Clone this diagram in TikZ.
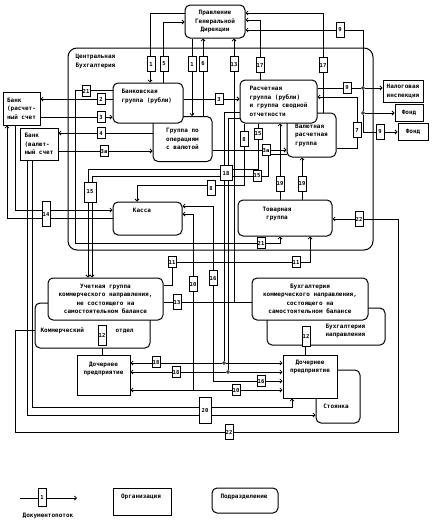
\documentclass[tikz,border=0pt]{standalone}
\usepackage{fontspec}
\newfontfamily\schemafont{DejaVu Sans Mono}
\usetikzlibrary{arrows.meta, positioning, backgrounds}

\tikzset{
  sfont/.style={font=\schemafont\bfseries\fontsize{6}{8.5}\selectfont},
  dept/.style={draw, line width=1pt, rounded corners=5pt, fill=white, sfont, inner sep=1pt},
  org/.style={draw, line width=1pt, fill=white, sfont, inner sep=1pt},
  num/.style={draw, line width=0.8pt, fill=white, font=\schemafont\bfseries\fontsize{5.5}{6}\selectfont, inner sep=0.5pt, minimum width=8pt, minimum height=11pt},
  tall/.style={minimum height=15pt},
  flow/.style={draw, line width=0.75pt, -{Straight Barb[length=2pt,width=4pt]}},
  dflow/.style={draw, line width=0.75pt, {Straight Barb[length=2pt,width=4pt]}-{Straight Barb[length=2pt,width=4pt]}},
  link/.style={draw, line width=0.75pt},
  jn/.style={draw, circle, fill=white, line width=0.6pt, inner sep=0pt, minimum size=2.8pt},
}

\begin{document}
\begin{tikzpicture}[x=1pt, y=-1pt]
  \useasboundingbox (0,0) rectangle (433,530);

  % Containers
  \node[dept, rounded corners=9pt, fill=none, minimum width=305pt, minimum height=202pt] (central) at (220.5,149) {};
  \node[sfont, align=left, anchor=north west] (centralt) at (72,51) {Центральная\\Бухгалтерия};
  \node[dept, minimum width=115pt, minimum height=45pt] (kommotd) at (92.5,325.5) {};
  \node[sfont, anchor=west] (kommotdt) at (37,331) {Коммерческий};
  \node[sfont, anchor=west] (otdelt) at (112,331) {отдел};
  \node[dept, minimum width=118pt, minimum height=37pt] (buhnapr) at (326,326.5) {};
  \node[sfont, align=left, anchor=west] (buhnaprt) at (322,331) {Бухгалтерия\\направления};
  \node[dept, minimum width=115pt, minimum height=42pt, align=center] (uchet) at (105.5,299) {Учетная группа\\коммерческого направления,\\не состоящего на\\самостоятельном балансе};
  \node[dept, minimum width=116pt, minimum height=42pt, align=center] (buhk) at (310,299) {Бухгалтерия\\коммерческого направления,\\состоящего на\\самостоятельном балансе};

  % Units
  \node[dept, minimum width=60pt, minimum height=33pt, align=center] (pravl) at (215,21.5) {Правление\\Генеральной\\Дирекции};
  \node[org, minimum width=37pt, minimum height=33pt, align=left] (bankr) at (21.5,108.5) {Банк\\(расчет-\\ный счет};
  \node[org, minimum width=38pt, minimum height=32pt, align=left] (bankv) at (39,144) {Банк\\(валют-\\ный счет};
  \node[dept, minimum width=59pt, minimum height=45pt, align=left] (valop) at (182.5,139) {Группа по\\операциям\\с валютой};
  \node[dept, minimum width=70pt, minimum height=40pt] (bankgr) at (148,103) {};
  \node[sfont, align=left, anchor=north west] (bankgrt) at (118,86) {Банковская\\группа (рубли)};
  \node[dept, minimum width=49pt, minimum height=44pt, align=left] (valut) at (311.5,135) {Валютная\\расчетная\\группа};
  \node[dept, minimum width=77pt, minimum height=43pt, align=left] (rasch) at (278.5,101.5) {Расчетная\\группа (рубли)\\и группа сводной\\отчетности};
  \node[org, minimum width=40pt, minimum height=22pt, align=center] (nalog) at (403,91) {Налоговая\\инспекция};
  \node[org, minimum width=28pt, minimum height=17pt] (fond1) at (409,112.5) {Фонд};
  \node[org, minimum width=30pt, minimum height=17pt] (fond2) at (413,131.5) {Фонд};
  \node[dept, minimum width=69pt, minimum height=33pt] (kassa) at (147.5,218.5) {};
  \node[sfont] (kassat) at (142,210) {Касса};
  \node[dept, minimum width=94pt, minimum height=36pt] (tovar) at (285,218) {};
  \node[sfont, align=center] (tovart) at (277,214) {Товарная\\группа};
  \node[org, minimum width=53pt, minimum height=40pt] (doch1) at (103.5,375) {};
  \node[sfont, align=center] (doch1t) at (103.5,369) {Дочернее\\предприятие};
  \node[dept, minimum width=44pt, minimum height=53pt] (stoy) at (338,396.5) {};
  \node[sfont] (stoyt) at (336,406) {Стоянка};
  \node[org, minimum width=54pt, minimum height=43pt] (doch2) at (310,376.5) {};
  \node[sfont, align=center] (doch2t) at (310,367) {Дочернее\\предприятие};

  % Junctions
  \node[jn] (j9a) at (363,88) {};
  \node[jn] (j9b) at (363,113) {};
  \node[jn] (j18a) at (224,363) {};
  \node[jn] (j18b) at (228,372) {};
  \coordinate (c10) at (193,390);

  \begin{pgfonlayer}{background}
    % Management
    \draw[flow] (pravl.west |- 0,13) -| (bankgr.north -| 150,0);
    \draw[flow] (bankgr.north -| 163,0) |- (pravl.west |- 0,22);
    \draw[flow] (pravl.south -| 192,0) -- (valop.north -| 192,0);
    \draw[flow] (valop.north -| 203,0) -- (pravl.south -| 203,0);
    \draw[flow] (uchet.east |- 0,302) -| (pravl.south -| 234,0);
    \draw[link] (buhk.west |- 0,302) -- (234,302);
    \draw[flow] (rasch.north -| 260,0) |- (pravl.east |- 0,20);
    \draw[flow] (valut.north -| 323,0) |- (pravl.east |- 0,13);
    % Reporting
    \draw[link] (rasch.east |- 0,88) -- (j9a);
    \draw[flow] (j9a) -- (nalog.west |- 0,88);
    \draw[flow] (j9a) |- (pravl.east |- 0,30);
    \draw[link] (j9a) -- (j9b);
    \draw[flow] (j9b) -- (fond1.west |- 0,113);
    \draw[flow] (j9b) |- (fond2.west |- 0,132);
    \draw[flow] (valut.east |- 0,148) -| (357,97) -- (rasch.east |- 0,97);
    % Banks
    \draw[flow] (bankgr.west |- 0,99) -- (bankr.east |- 0,99);
    \draw[flow] (bankr.east |- 0,117) -- (bankgr.west |- 0,117);
    \draw[flow] (bankgr.east |- 0,99) -- (rasch.west |- 0,99);
    \draw[flow] (valop.west |- 0,133) -- (bankv.east |- 0,133);
    \draw[flow] (bankv.east |- 0,151) -- (valop.west |- 0,151);
    \draw[flow] (valop.east |- 0,150) -- (valut.west |- 0,150);
    \draw[flow] (bankgr.west |- 0,90) -| (75,243) -| (tovar.south -| 280,0);
    \draw[flow] (bankr.south -| 15,0) |- (kassa.west |- 0,210);
    \draw[flow] (kassa.west |- 0,218) -| (bankr.south -| 7,0);
    % Inside
    \draw[flow] (rasch.south -| 258,0) |- (88,169) -- (uchet.north -| 88,0);
    \draw[flow] (valut.west |- 0,154) -| (268,176) -| (uchet.north -| 92,0);
    \draw[flow] (rasch.south -| 244,0) |- (137,185) -- (kassa.north -| 137,0);
    \draw[flow] (tovar.north -| 280,0) -- (rasch.south -| 280,0);
    \draw[flow] (tovar.north -| 302,0) -- (valut.south -| 302,0);
    \draw[flow] (uchet.east |- 0,285) -| (172,262) -| (tovar.south -| 310,0);
    \draw[flow] (kommotd.west |- 0,330) -| (15,432) -| (398,219) -- (tovar.east |- 0,219);
    % Subsidiaries
    \draw[link] (rasch.west |- 0,112) -| (j18a);
    \draw[link] (rasch.west |- 0,118) -| (j18b);
    \draw[flow] (j18a) -- (doch1.east |- 0,363);
    \draw[flow] (j18a) -- (doch2.west |- 0,363);
    \draw[flow] (j18b) -- (doch1.east |- 0,372);
    \draw[flow] (j18b) -- (doch2.west |- 0,372);
    \draw[dflow] (kassa.east |- 0,206) -| (213,381) -- (doch2.west |- 0,381);
    \draw[dflow] (kassa.east |- 0,214) -| (c10) -- (doch2.west |- 0,390);
    \draw[flow] (c10) -- (doch1.east |- 0,390);
    \draw[flow] (bankv.south -| 32,0) |- (292,407) -- (doch2.south -| 292,0);
    \draw[flow] (bankv.south -| 27,0) |- (stoy.west |- 0,415);
    \draw[flow] (doch1.north -| 102,0) -- (uchet.south -| 102,0);
    \draw[flow] (doch2.north -| 305,0) -- (buhk.south -| 305,0);
  \end{pgfonlayer}

  % Document numbers
  \node[num, tall] (n1a) at (151,64) {1};
  \node[num, tall] (n5) at (164,64) {5};
  \node[num, tall] (n1b) at (192,64) {1};
  \node[num, tall] (n6) at (203,64) {6};
  \node[num, tall] (n13a) at (234,64) {13};
  \node[num, tall] (n17a) at (260,65) {17};
  \node[num, tall] (n17b) at (323,65) {17};
  \node[num, tall] (n9a) at (340,30) {9};
  \node[num] (n9b) at (347,88) {9};
  \node[num, tall] (n9c) at (380,132) {9};
  \node[num, tall] (n7) at (357,130) {7};
  \node[num] (n2) at (101,99) {2};
  \node[num] (n3a) at (101,117) {3};
  \node[num] (n3b) at (219,99) {3};
  \node[num] (n4) at (101,133) {4};
  \node[num] (n3c) at (104,151) {3а};
  \node[num] (n3d) at (266,150) {3а};
  \node[num] (n21a) at (86,91) {21};
  \node[num] (n21b) at (261,243) {21};
  \node[num, minimum height=25pt] (n14) at (46,214) {14};
  \node[num, minimum width=12pt, minimum height=20pt] (n15a) at (90,192) {15};
  \node[num] (n15b) at (258,134) {15};
  \node[num] (n15c) at (257,176) {15};
  \node[num, tall] (n8a) at (244,139) {8};
  \node[num, tall] (n8b) at (211,188) {8};
  \node[num, minimum width=12pt, tall] (n18a) at (226,173) {18};
  \node[num] (n18b) at (156,362) {18};
  \node[num] (n18c) at (176,372) {18};
  \node[num, tall] (n19a) at (280,184) {19};
  \node[num, tall] (n19b) at (302,184) {19};
  \node[num, tall] (n16a) at (213,278) {16};
  \node[num] (n16b) at (261,381) {16};
  \node[num, tall] (n10a) at (193,284) {10};
  \node[num] (n10b) at (236,390) {10};
  \node[num] (n11a) at (172,262) {11};
  \node[num] (n11b) at (296,262) {11};
  \node[num, tall] (n13b) at (177,302) {13};
  \node[num, tall] (n22a) at (359,219) {22};
  \node[num, tall] (n22b) at (229,432) {22};
  \node[num, minimum width=12pt, minimum height=26pt] (n20) at (205,410) {20};
  \node[num, minimum height=20pt] (n12a) at (102,335) {12};
  \node[num, minimum height=20pt] (n12b) at (306,336) {12};

  % Legend
  \coordinate (legs) at (20,498);
  \coordinate (lege) at (77,498);
  \draw[flow] (legs) -- (lege);
  \node[num, minimum height=18pt] (legn) at (42,497) {1};
  \node[sfont] (legt) at (48,516) {Документопоток};
  \node[org, minimum width=58pt, minimum height=27pt] (legorg) at (142,501.5) {};
  \node[sfont] (legorgt) at (141,497) {Организация};
  \node[dept, minimum width=66pt, minimum height=25pt] (legdep) at (245,500.5) {};
  \node[sfont] (legdept) at (244,497) {Подразделение};
\end{tikzpicture}
\end{document}
